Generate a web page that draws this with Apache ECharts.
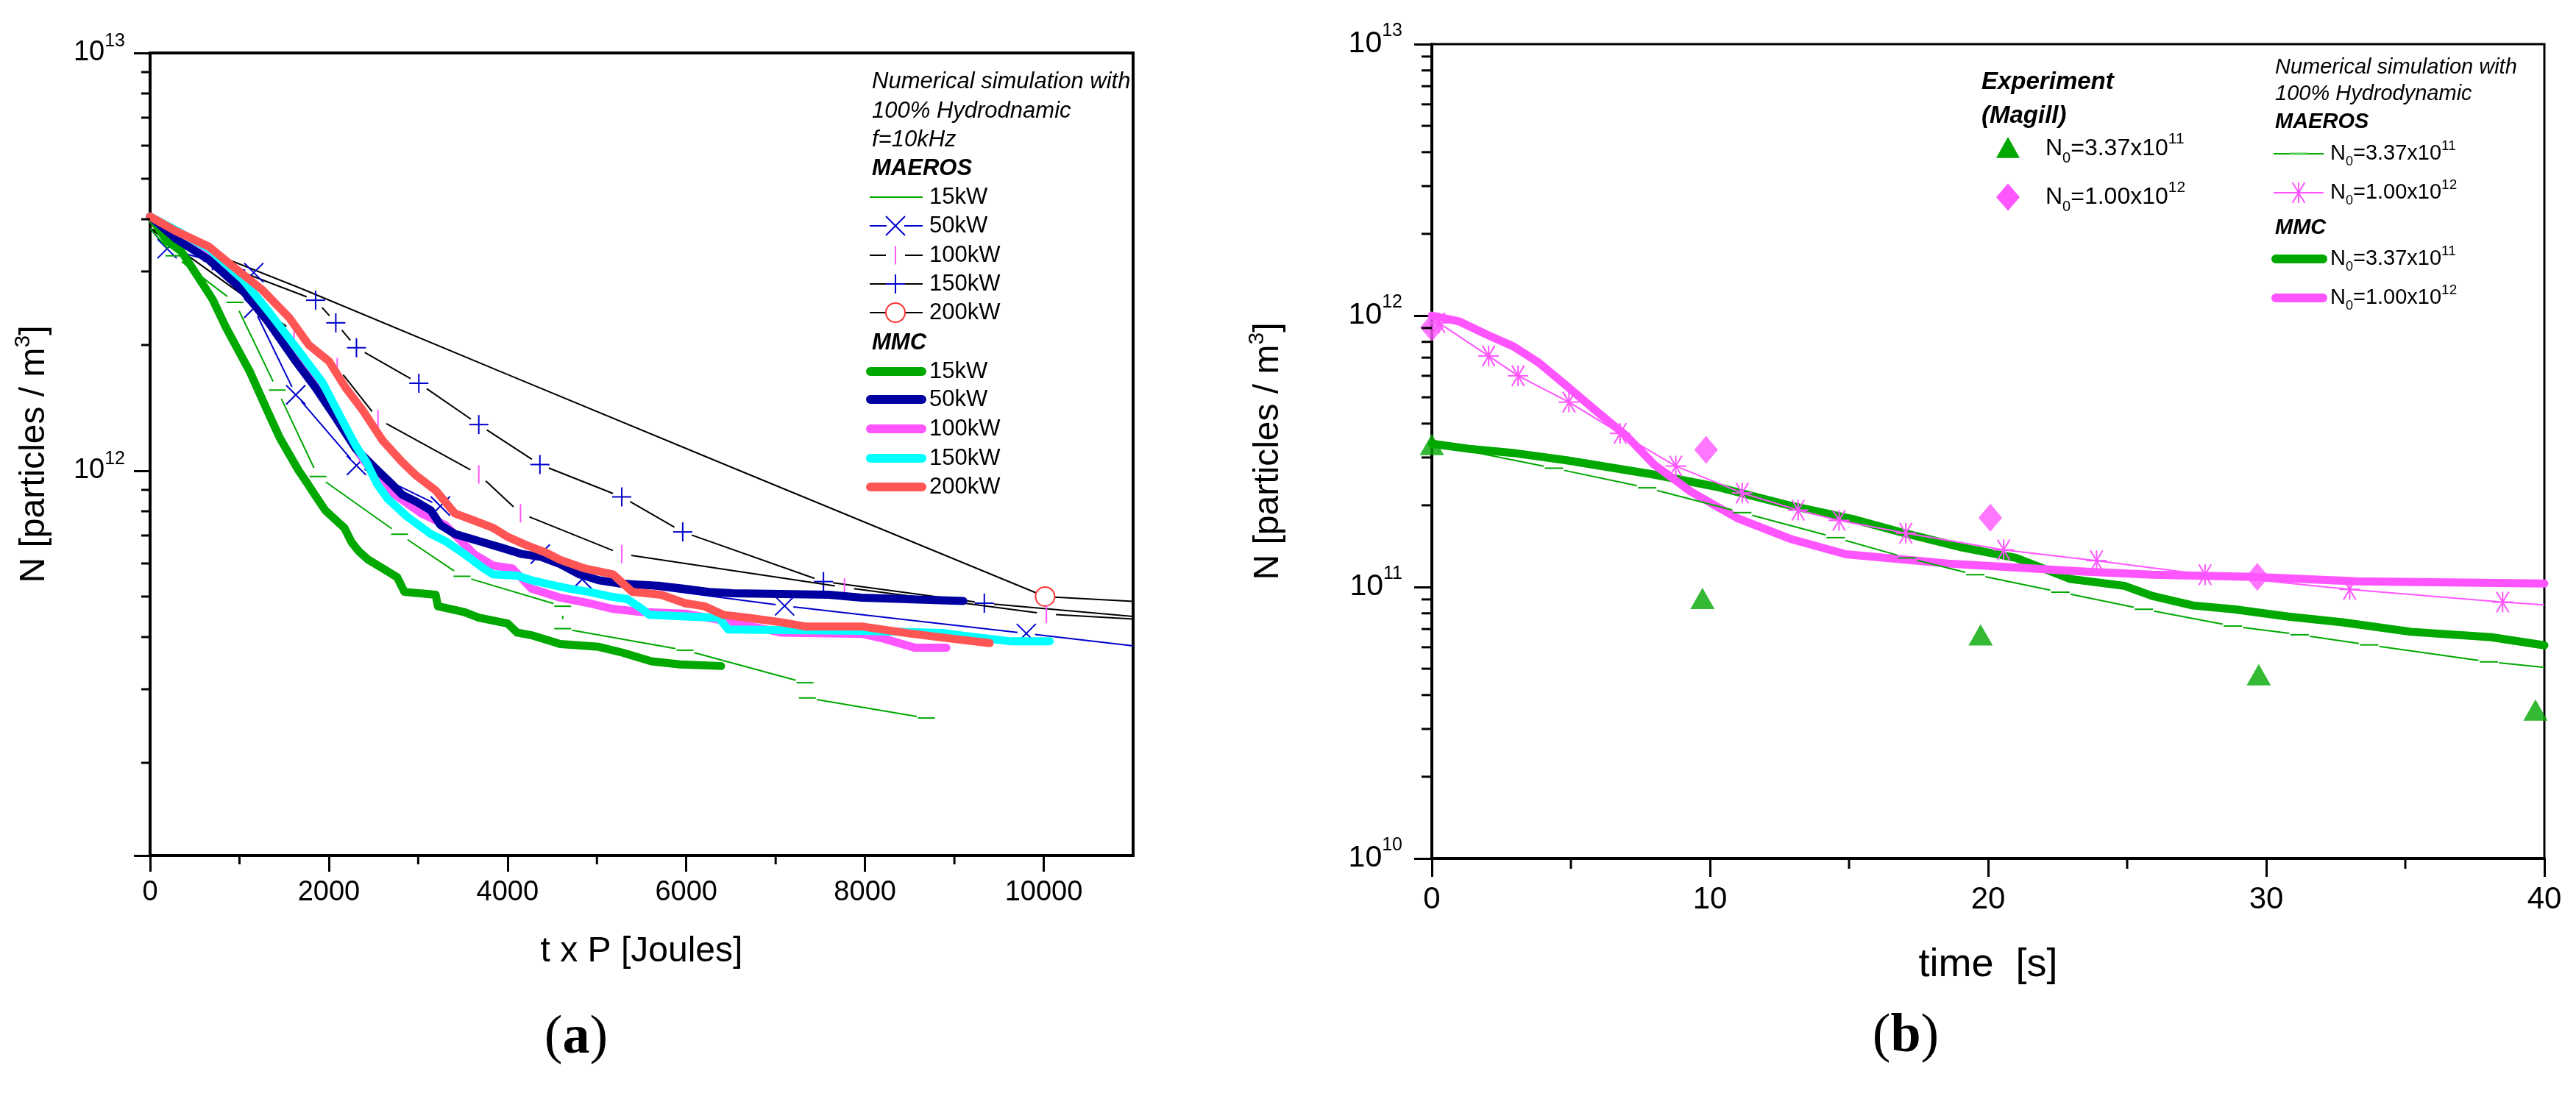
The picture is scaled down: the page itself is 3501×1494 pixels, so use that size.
<!DOCTYPE html>
<html>
<head>
<meta charset="utf-8">
<title>Particle concentration decay – MAEROS vs MMC</title>
<script src="https://cdn.jsdelivr.net/npm/echarts@6/dist/echarts.min.js"></script>
<style>
html,body{margin:0;padding:0;background:#ffffff;}
#chart{width:3501px;height:1494px;}
</style>
</head>
<body>
<div id="chart"></div>
<script>
// ================= Panel (a): N versus t x P =================
const aPowers = ['15kW', '50kW', '100kW', '150kW', '200kW'];
const aMinorX = [1000, 3000, 5000, 7000, 9000];
const aMinorY = [2e11, 3e11, 4e11, 5e11, 6e11, 7e11, 8e11, 9e11, 2e12, 3e12, 4e12, 5e12, 6e12, 7e12, 8e12, 9e12];

// MMC (thick curves)
const aMmc15 = [[0,4.06e12],[190,3.55e12],[350,3.35e12],[520,2.95e12],[700,2.57e12],[850,2.2e12],[1000,1.92e12],[1120,1.72e12],[1320,1.38e12],[1450,1.2e12],[1584,1.07e12],[1664,1.0e12],[1745,9.43e11],[1852,8.7e11],[1960,8.04e11],[2067,7.66e11],[2174,7.3e11],[2255,6.74e11],[2335,6.42e11],[2443,6.12e11],[2604,5.84e11],[2765,5.56e11],[2846,5.13e11],[3195,5.05e11],[3221,4.74e11],[3517,4.59e11],[3678,4.45e11],[4000,4.31e11],[4107,4.10e11],[4268,4.04e11],[4590,3.85e11],[5020,3.79e11],[5288,3.67e11],[5610,3.50e11],[5933,3.44e11],[6389,3.41e11]];
const aMmc50 = [[0,4.06e12],[284,3.6e12],[657,3.2e12],[1031,2.71e12],[1329,2.26e12],[1628,1.83e12],[1852,1.58e12],[2076,1.34e12],[2300,1.13e12],[2550,1.0e12],[2711,9.27e11],[2819,8.77e11],[2980,8.43e11],[3141,8.04e11],[3248,7.42e11],[3409,7.06e11],[3678,6.79e11],[3946,6.53e11],[4161,6.32e11],[4376,6.22e11],[4590,5.98e11],[4805,5.65e11],[5020,5.47e11],[5235,5.38e11],[5450,5.34e11],[5718,5.30e11],[5986,5.22e11],[6255,5.13e11],[6523,5.09e11],[7597,5.05e11],[7962,4.97e11],[9100,4.88e11]];
const aMmc100 = [[0,4.06e12],[284,3.71e12],[657,3.35e12],[1031,2.79e12],[1329,2.33e12],[1628,1.89e12],[1927,1.56e12],[2151,1.28e12],[2375,1.07e12],[2550,9.6e11],[2711,8.85e11],[3033,7.91e11],[3302,7.42e11],[3624,6.32e11],[3839,5.93e11],[4054,5.84e11],[4268,5.22e11],[4590,4.97e11],[4913,4.82e11],[5181,4.67e11],[5503,4.59e11],[5986,4.55e11],[6416,4.38e11],[7060,4.10e11],[7962,4.07e11],[8200,3.97e11],[8560,3.77e11],[8910,3.77e11]];
const aMmc150 = [[0,4.06e12],[284,3.77e12],[657,3.40e12],[1031,2.88e12],[1329,2.40e12],[1628,1.98e12],[1927,1.63e12],[2151,1.32e12],[2300,1.15e12],[2420,1.05e12],[2540,9.3e11],[2658,8.57e11],[2872,7.78e11],[3141,7.06e11],[3302,6.79e11],[3517,6.32e11],[3731,5.84e11],[3839,5.65e11],[4107,5.61e11],[4268,5.47e11],[4483,5.34e11],[4698,5.22e11],[4913,5.13e11],[5127,5.01e11],[5342,4.93e11],[5503,4.67e11],[5584,4.52e11],[5986,4.48e11],[6362,4.45e11],[6470,4.17e11],[7962,4.14e11],[8872,4.09e11],[9096,4.03e11],[9619,3.91e11],[10067,3.91e11]];
const aMmc200 = [[0,4.06e12],[284,3.75e12],[657,3.44e12],[956,3.05e12],[1255,2.71e12],[1553,2.33e12],[1777,2.0e12],[2001,1.83e12],[2188,1.58e12],[2375,1.40e12],[2604,1.18e12],[2819,1.05e12],[2980,9.73e11],[3195,8.98e11],[3409,7.91e11],[3624,7.6e11],[3839,7.30e11],[4000,6.95e11],[4215,6.63e11],[4429,6.37e11],[4590,6.12e11],[4859,5.84e11],[5181,5.65e11],[5396,5.13e11],[5718,5.05e11],[5986,4.82e11],[6201,4.74e11],[6416,4.52e11],[6684,4.45e11],[7060,4.34e11],[7329,4.24e11],[7962,4.24e11],[8499,4.08e11],[8947,3.97e11],[9395,3.87e11]];

// MAEROS (thin lines, markers on sampled points)
const aMae15 = [[0,3.8e12],[268,3.27e12],[950,2.53e12],[1423,1.56e12],[1879,9.69e11],[2792,7.05e11],[3490,5.59e11],[4617,4.74e11],[4617,4.19e11],[5986,3.72e11],[7329,3.11e11],[7355,2.86e11],[8686,2.56e11]];
const aMae15Marked = [1,2,3,4,5,6,7,8,9,10,11,12];
const aMae50 = [[0,3.8e12],[190,3.4e12],[1160,2.98e12],[1160,2.45e12],[1630,1.52e12],[2309,1.03e12],[3248,8.23e11],[4366,6.32e11],[4835,5.5e11],[7100,4.75e11],[9805,4.08e11],[11000,3.81e11]];
const aMae50Marked = [1,2,3,4,5,6,7,8,9,10];
const aMae100 = [[0,3.8e12],[1611,2.15e12],[2094,1.77e12],[2550,1.33e12],[3678,9.8e11],[4145,7.91e11],[5278,6.32e11],[7770,5.26e11],[10030,4.54e11],[11000,4.42e11]];
const aMae100Marked = [1,2,3,4,5,6,7,8];
const aMae150 = [[0,3.8e12],[698,3.18e12],[1852,2.56e12],[2078,2.26e12],[2309,1.97e12],[3007,1.62e12],[3678,1.29e12],[4362,1.035e12],[5278,8.66e11],[5960,7.14e11],[7535,5.43e11],[9335,4.82e11],[11000,4.48e11]];
const aMae150Marked = [1,2,3,4,5,6,7,8,9,10,11];
const aMae200 = [[0,3.8e12],[1691,2.73e12],[4000,1.70e12],[6362,1.05e12],[10015,5.0e11],[11000,4.87e11]];
const aMae200Marked = [4];

// ================= Panel (b): N versus time =================
const bMinorX = [5, 15, 25, 35];
const bMinorY = [2e10,3e10,4e10,5e10,6e10,7e10,8e10,9e10,2e11,3e11,4e11,5e11,6e11,7e11,8e11,9e11,2e12,3e12,4e12,5e12,6e12,7e12,8e12,9e12];
const bSeriesNames = ['N0=3.37x10^11', 'N0=1.00x10^12'];

// Experiment (Magill)
const bExpLow = [[0,3.35e11],[9.73,9.08e10],[19.73,6.67e10],[29.73,4.75e10],[39.68,3.52e10]];
const bExpHigh = [[0,9.04e11],[9.86,3.2e11],[20.08,1.80e11],[29.68,1.09e11]];
// MAEROS
const bMaeLow = [[0,3.37e11],[4.39,2.74e11],[7.74,2.32e11],[11.16,1.88e11],[14.52,1.52e11],[17.09,1.28e11],[19.54,1.11e11],[22.6,9.57e10],[25.6,8.28e10],[28.8,7.18e10],[31.2,6.67e10],[33.7,6.12e10],[38.0,5.30e10],[40,5.06e10]];
const bMaeLowMarked = [1,2,3,4,5,6,7,8,9,10,11,12];
const bMaeHigh = [[0.25,9.4e11],[2.04,7.1e11],[3.1,6.0e11],[4.93,4.8e11],[6.77,3.68e11],[8.77,2.79e11],[11.16,2.22e11],[13.17,1.92e11],[14.64,1.76e11],[17.04,1.58e11],[20.56,1.37e11],[23.9,1.25e11],[27.8,1.11e11],[33.0,9.8e10],[38.5,8.8e10],[40,8.6e10]];
const bMaeHighMarked = [0,1,2,3,4,5,6,7,8,9,10,11,12,13,14];
// MMC
const bMmcLow = [[0,3.37e11],[1.43,3.22e11],[2.9,3.12e11],[4.85,2.93e11],[8.04,2.59e11],[10.24,2.34e11],[12.93,1.99e11],[15.13,1.78e11],[17.09,1.57e11],[19.05,1.40e11],[21.0,1.28e11],[22.96,1.07e11],[24.9,1.01e11],[25.9,9.27e10],[27.37,8.55e10],[28.84,8.28e10],[30.8,7.78e10],[32.75,7.41e10],[35.2,6.84e10],[38.1,6.53e10],[40,6.1e10]];
const bMmcHigh = [[0,1.0e12],[1.0,9.5e11],[2.04,8.45e11],[2.93,7.7e11],[3.85,6.7e11],[4.9,5.45e11],[5.8,4.55e11],[7.0,3.6e11],[8.0,2.82e11],[9.3,2.25e11],[11.0,1.79e11],[12.93,1.50e11],[14.89,1.32e11],[17.09,1.26e11],[18.56,1.22e11],[21.0,1.18e11],[23.45,1.14e11],[25.9,1.11e11],[29.57,1.09e11],[33.24,1.05e11],[40,1.03e11]];

// ================= styling helpers =================
const SANS = "'Liberation Sans', Arial, Helvetica, sans-serif";
const SERIF = "'Liberation Serif', 'Times New Roman', serif";
const C = {
  green: '#00A800', navy: '#0000A0', magenta: '#FF55FF', cyan: '#00FFFF', red: '#FF5555',
  blue: '#0000CC', black: '#000000', circle: '#FF3333'
};

function markerEls(kind, x, y, color, s) {
  const h = s / 2, lw = 2;
  const L = (x1, y1, x2, y2) => ({type: 'line', shape: {x1, y1, x2, y2}, style: {stroke: color, lineWidth: lw}});
  switch (kind) {
    case 'hdash': return [L(x - h, y, x + h, y)];
    case 'vbar': return [L(x, y - h, x, y + h)];
    case 'plus': return [L(x - h, y, x + h, y), L(x, y - h, x, y + h)];
    case 'cross': return [L(x - h, y - h, x + h, y + h), L(x - h, y + h, x + h, y - h)];
    case 'circle': return [{type: 'circle', shape: {cx: x, cy: y, r: h}, style: {stroke: color, fill: 'none', lineWidth: lw}}];
    case 'star': return [L(x, y - h, x, y + h), L(x - h, y, x + h, y), L(x - h * 0.6, y - h, x + h * 0.6, y + h), L(x - h * 0.6, y + h, x + h * 0.6, y - h)];
    case 'tri': return [{type: 'polygon', shape: {points: [[x, y - h], [x + h, y + h * 0.8], [x - h, y + h * 0.8]]}, style: {fill: color}}];
    case 'diamond': return [{type: 'polygon', shape: {points: [[x, y - h * 1.15], [x + h, y], [x, y + h * 1.15], [x - h, y]]}, style: {fill: color}}];
  }
  return [];
}

function gappedSeries(idx, pts, marked, kind, lineColor, markColor, markSize, gap, z) {
  const set = new Set(marked);
  return {
    type: 'custom', xAxisIndex: idx, yAxisIndex: idx, z: z, silent: true,
    data: pts.map(p => [p[0], p[1]]),
    encode: {x: 0, y: 1},
    renderItem: function (params, api) {
      const i = params.dataIndex;
      const p = api.coord(pts[i]);
      const els = [];
      if (i + 1 < pts.length) {
        const q = api.coord(pts[i + 1]);
        const dx = q[0] - p[0], dy = q[1] - p[1], len = Math.hypot(dx, dy);
        const g0 = set.has(i) ? gap : 0, g1 = set.has(i + 1) ? gap : 0;
        if (len > g0 + g1 + 1) {
          const ux = dx / len, uy = dy / len;
          els.push({type: 'line', shape: {x1: p[0] + ux * g0, y1: p[1] + uy * g0, x2: q[0] - ux * g1, y2: q[1] - uy * g1},
            style: {stroke: lineColor, lineWidth: 2}});
        }
      }
      if (set.has(i)) markerEls(kind, p[0], p[1], markColor, markSize).forEach(e => els.push(e));
      return {type: 'group', children: els};
    }
  };
}

function thickSeries(idx, name, pts, color, z) {
  return {
    type: 'line', name: name, xAxisIndex: idx, yAxisIndex: idx, data: pts, showSymbol: false, z: z,
    lineStyle: {color: color, width: 11, cap: 'round', join: 'round'}, silent: true
  };
}

function yMinorSeries(idx, values, xAt, len) {
  return {
    type: 'custom', xAxisIndex: idx, yAxisIndex: idx, z: 20, silent: true,
    data: values.map(v => [xAt, v]), encode: {x: 0, y: 1},
    renderItem: (params, api) => {
      const p = api.coord([api.value(0), api.value(1)]);
      return {type: 'line', shape: {x1: p[0] - len, y1: p[1], x2: p[0], y2: p[1]}, style: {stroke: '#000', lineWidth: 3}};
    }
  };
}
function xMinorSeries(idx, values, yAt, len) {
  return {
    type: 'custom', xAxisIndex: idx, yAxisIndex: idx, z: 20, silent: true,
    data: values.map(v => [v, yAt]), encode: {x: 0, y: 1},
    renderItem: (params, api) => {
      const p = api.coord([api.value(0), api.value(1)]);
      return {type: 'line', shape: {x1: p[0], y1: p[1], x2: p[0], y2: p[1] + len}, style: {stroke: '#000', lineWidth: 3}};
    }
  };
}

function decadeLabel(v) {
  const lg = Math.log10(v), e = Math.round(lg);
  if (Math.abs(lg - e) > 1e-6) return '';
  return '10{s|' + e + '}';
}
function plainNumber(v) { return String(Math.round(v)); }

// ---- legend graphics ----
const G = [];
function txt(x, y, text, size, opt) {
  opt = opt || {};
  G.push({type: 'text', x: x, y: y, z: 100,
    style: Object.assign({text: text, fontFamily: SANS, fontSize: size, fill: '#000',
      align: opt.align || 'left', verticalAlign: 'middle', textAlign: opt.align || 'left', textVerticalAlign: 'middle',
      fontStyle: opt.italic ? 'italic' : 'normal', fontWeight: opt.bold ? 'bold' : 'normal'}, opt.style || {})});
}
function seg(x1, y1, x2, y2, color, w, cap) {
  G.push({type: 'line', z: 100, shape: {x1, y1, x2, y2}, style: {stroke: color, lineWidth: w, lineCap: cap || 'butt'}});
}
function mark(kind, x, y, color, s) {
  markerEls(kind, x, y, color, s).forEach(e => { e.z = 101; G.push(e); });
}
function nRich(size, subSize, supSize, H, subLH, supLH) {
  return {
    rich: {
      sub: {fontFamily: SANS, fontSize: subSize, lineHeight: subLH, verticalAlign: 'bottom', fill: '#000'},
      sup: {fontFamily: SANS, fontSize: supSize, lineHeight: supLH, verticalAlign: 'top', fill: '#000'}
    },
    lineHeight: H
  };
}
function nLabel(name) {
  const m = name.match(/^N0=(.*)x10\^(\d+)$/);
  return 'N{sub|0}=' + m[1] + 'x10{sup|' + m[2] + '}';
}

// Panel (a) legend
(function () {
  const tx = 1185, fs = 31;
  txt(tx, 111, 'Numerical simulation with', fs, {italic: true});
  txt(tx, 151, '100% Hydrodnamic', fs, {italic: true});
  txt(tx, 190, 'f=10kHz', fs, {italic: true});
  txt(tx, 229, 'MAEROS', fs, {italic: true, bold: true});
  const ys = [268, 307, 347, 386, 425];
  const lx1 = 1182, lx2 = 1254, mx = 1217, lab = 1263;
  seg(lx1, ys[0], lx2, ys[0], C.green, 2);
  seg(lx1, ys[1], mx - 12, ys[1], C.blue, 2); seg(mx + 12, ys[1], lx2, ys[1], C.blue, 2); mark('cross', mx, ys[1], C.blue, 26);
  seg(lx1, ys[2], mx - 13, ys[2], C.black, 2); seg(mx + 13, ys[2], lx2, ys[2], C.black, 2); mark('vbar', mx, ys[2], C.magenta, 25);
  seg(lx1, ys[3], lx2, ys[3], C.black, 2); mark('plus', mx, ys[3], C.blue, 26);
  seg(lx1, ys[4], mx - 13, ys[4], C.black, 2); seg(mx + 13, ys[4], lx2, ys[4], C.black, 2); mark('circle', mx, ys[4], C.circle, 26);
  ys.forEach((y, i) => txt(lab, y, aPowers[i], fs));
  txt(tx, 466, 'MMC', fs, {italic: true, bold: true});
  const ys2 = [505, 543, 583, 623, 662];
  const cols = [C.green, C.navy, C.magenta, C.cyan, C.red];
  ys2.forEach((y, i) => { seg(1183, y, 1253, y, cols[i], 12, 'round'); txt(lab, y, aPowers[i], fs); });
})();

// Panel (b) legend
(function () {
  const lx = 2693;
  txt(lx, 112, 'Experiment', 33, {italic: true, bold: true});
  txt(lx, 158, '(Magill)', 33, {italic: true, bold: true});
  mark('tri', 2729, 202, C.green, 32);
  mark('diamond', 2729, 268, C.magenta, 32);
  const r1 = nRich(32, 20, 21, 46, 10, 22);
  txt(2780, 202, nLabel(bSeriesNames[0]), 32, {style: r1});
  txt(2780, 268, nLabel(bSeriesNames[1]), 32, {style: r1});

  const rx = 3092;
  txt(rx, 92, 'Numerical simulation with', 29, {italic: true});
  txt(rx, 128, '100% Hydrodynamic', 29, {italic: true});
  txt(rx, 166, 'MAEROS', 29, {italic: true, bold: true});
  const r2 = nRich(29, 18, 19, 40, 8, 20);
  seg(3090, 209, 3158, 209, C.green, 2); seg(3112, 209, 3136, 209, '#55CC55', 3);
  txt(3167, 209, nLabel(bSeriesNames[0]), 29, {style: r2});
  seg(3090, 262, 3158, 262, C.magenta, 2); mark('star', 3124, 262, C.magenta, 28);
  txt(3167, 262, nLabel(bSeriesNames[1]), 29, {style: r2});
  txt(rx, 310, 'MMC', 29, {italic: true, bold: true});
  seg(3093, 352, 3157, 352, C.green, 12, 'round');
  txt(3167, 352, nLabel(bSeriesNames[0]), 29, {style: r2});
  seg(3093, 405, 3157, 405, C.magenta, 12, 'round');
  txt(3167, 405, nLabel(bSeriesNames[1]), 29, {style: r2});
})();

// panel letters
G.push({type: 'text', x: 783, y: 1412, z: 100, style: {text: '({b|a})', fontFamily: SERIF, fontSize: 74, fill: '#000',
  align: 'center', verticalAlign: 'middle', textAlign: 'center', textVerticalAlign: 'middle',
  rich: {b: {fontFamily: SERIF, fontSize: 74, fontWeight: 'bold', fill: '#000'}}}});
G.push({type: 'text', x: 2590, y: 1410, z: 100, style: {text: '({b|b})', fontFamily: SERIF, fontSize: 74, fill: '#000',
  align: 'center', verticalAlign: 'middle', textAlign: 'center', textVerticalAlign: 'middle',
  rich: {b: {fontFamily: SERIF, fontSize: 74, fontWeight: 'bold', fill: '#000'}}}});

// ================= axes =================
function xAxisCfg(idx, max, interval, fs, margin, name, nameFs, nameGap, lw) {
  return {
    type: 'value', gridIndex: idx, min: 0, max: max, interval: interval,
    axisLine: {show: true, lineStyle: {color: '#000', width: lw}},
    axisTick: {show: true, length: idx === 0 ? 22 : 25, lineStyle: {color: '#000', width: 3}},
    splitLine: {show: false},
    axisLabel: {formatter: plainNumber, fontFamily: SANS, fontSize: fs, color: '#000', margin: margin, lineHeight: fs, showMaxLabel: idx !== 0},
    name: name, nameLocation: 'middle', nameGap: nameGap,
    nameTextStyle: {fontFamily: SANS, fontSize: nameFs, color: '#000', lineHeight: nameFs}
  };
}
function yAxisCfg(idx, min, max, fs, supFs, H, margin, nameGap, tickLen, lw) {
  return {
    type: 'log', logBase: 10, gridIndex: idx, min: min, max: max,
    axisLine: {show: true, lineStyle: {color: '#000', width: lw}},
    axisTick: {show: true, length: tickLen, lineStyle: {color: '#000', width: 3}},
    splitLine: {show: false},
    axisLabel: {formatter: decadeLabel, fontFamily: SANS, fontSize: fs, color: '#000', margin: margin, lineHeight: H,
      rich: {s: {fontFamily: SANS, fontSize: supFs, lineHeight: 26, verticalAlign: 'top', color: '#000'}}},
    name: 'N [particles / m{s|3}]', nameLocation: 'middle', nameGap: nameGap,
    nameTextStyle: {fontFamily: SANS, fontSize: 48, color: '#000', lineHeight: 60,
      rich: {s: {fontFamily: SANS, fontSize: 30, lineHeight: 30, verticalAlign: 'top', color: '#000'}}}
  };
}

const option = {
  animation: false,
  backgroundColor: '#ffffff',
  grid: [
    {left: 204, top: 72, width: 1336, height: 1091, show: true, borderColor: '#000', borderWidth: 4, backgroundColor: 'transparent'},
    {left: 1946, top: 60, width: 1512, height: 1107, show: true, borderColor: '#000', borderWidth: 3, backgroundColor: 'transparent'}
  ],
  xAxis: [
    xAxisCfg(0, 11000, 2000, 38, 32, 't x P [Joules]', 48, 107, 4),
    xAxisCfg(1, 40, 10, 42, 35, 'time  [s]', 54, 118, 4)
  ],
  yAxis: [
    yAxisCfg(0, 1.2e11, 1e13, 38, 25, 56, 34, 127, 22, 4),
    yAxisCfg(1, 1e10, 1e13, 41, 25, 60, 40, 192, 24, 4)
  ],
  series: [
    gappedSeries(0, aMae200, aMae200Marked, 'circle', C.black, C.circle, 26, 13, 2),
    gappedSeries(0, aMae150, aMae150Marked, 'plus', C.black, C.blue, 26, 13, 2),
    gappedSeries(0, aMae100, aMae100Marked, 'vbar', C.black, C.magenta, 25, 13, 2),
    gappedSeries(0, aMae50, aMae50Marked, 'cross', C.blue, C.blue, 26, 12, 2),
    gappedSeries(0, aMae15, aMae15Marked, 'hdash', C.green, C.green, 23, 13, 2),
    thickSeries(0, 'MMC 15kW', aMmc15, C.green, 3),
    thickSeries(0, 'MMC 100kW', aMmc100, C.magenta, 4),
    thickSeries(0, 'MMC 50kW', aMmc50, C.navy, 5),
    thickSeries(0, 'MMC 150kW', aMmc150, C.cyan, 6),
    thickSeries(0, 'MMC 200kW', aMmc200, C.red, 7),
    thickSeries(1, 'MMC ' + bSeriesNames[0], bMmcLow, C.green, 3),
    thickSeries(1, 'MMC ' + bSeriesNames[1], bMmcHigh, C.magenta, 3),
    gappedSeries(1, bMaeLow, bMaeLowMarked, 'hdash', C.green, C.green, 25, 14, 4),
    gappedSeries(1, bMaeHigh, bMaeHighMarked, 'star', C.magenta, C.magenta, 28, 0, 4),
    {type: 'scatter', name: 'Exp ' + bSeriesNames[0], xAxisIndex: 1, yAxisIndex: 1, data: bExpLow, symbol: 'triangle', symbolSize: [33, 29], itemStyle: {color: C.green}, z: 6, silent: true},
    {type: 'scatter', name: 'Exp ' + bSeriesNames[1], xAxisIndex: 1, yAxisIndex: 1, data: bExpHigh, symbol: 'diamond', symbolSize: [32, 38], itemStyle: {color: C.magenta}, z: 6, silent: true},
    yMinorSeries(0, aMinorY, 0, 12),
    xMinorSeries(0, aMinorX, 1.2e11, 12),
    yMinorSeries(1, bMinorY, 0, 14),
    xMinorSeries(1, bMinorX, 1e10, 14)
  ],
  graphic: G
};

const chart = echarts.init(document.getElementById('chart'), null, {renderer: 'canvas', width: 3501, height: 1494});
chart.setOption(option);
</script>
</body>
</html>
